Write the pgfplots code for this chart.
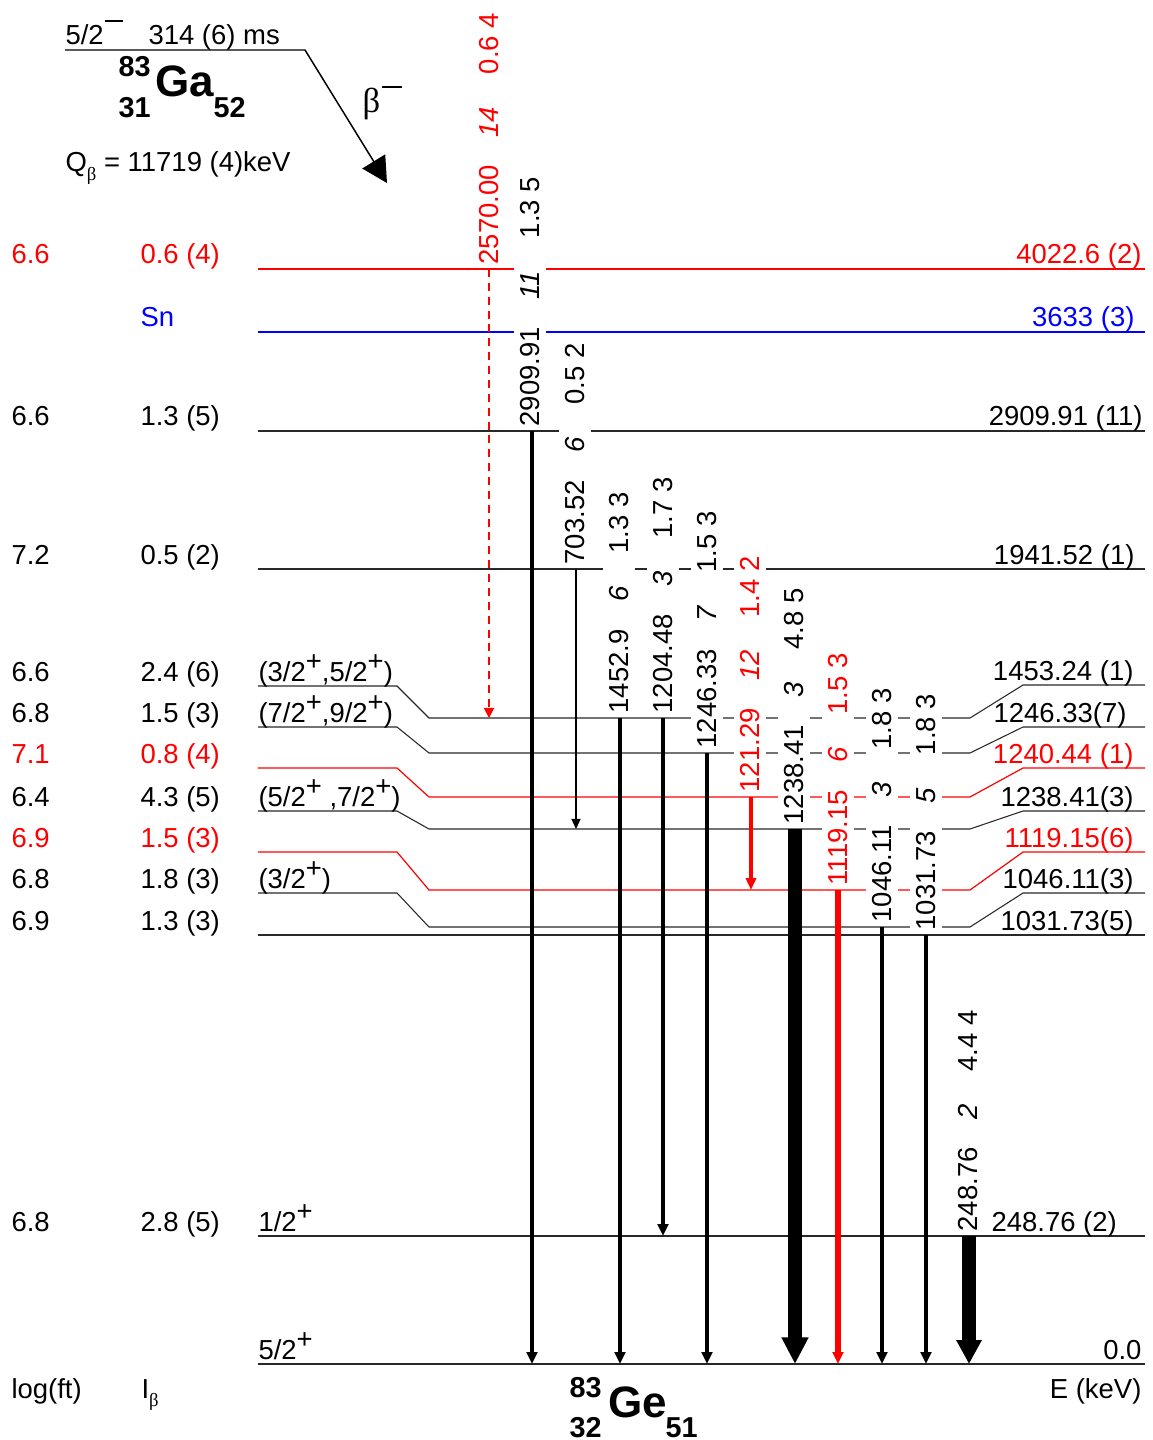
\documentclass[border=0pt]{standalone}
\usepackage{fontspec}
\setmainfont{Liberation Sans}
\newfontfamily\symfont{Liberation Serif}
\usepackage{pgfplots}
\pgfplotsset{compat=1.18}
\usetikzlibrary{arrows.meta}
\definecolor{lvred}{RGB}{255,0,0}
\definecolor{lvblue}{RGB}{0,0,255}
\definecolor{lvl}{RGB}{40,40,40}
\newcommand\sps{\raisebox{0.38em}{+}}
\newcommand\smn{\kern0.05em\raisebox{0.84em}{\rule{0.66em}{0.07em}}}
\newcommand\gl[3]{#1\hspace{1.0em}\textit{#2}\hspace{1.2em}#3}
\tikzset{lt/.style={anchor=base west, inner sep=0pt},
         rt/.style={anchor=base east, inner sep=0pt},
         gam/.style={rotate=90, anchor=west, fill=white, inner xsep=1pt, inner ysep=2.2pt},
         lev/.style={line width=0.4pt},
         levc/.style={line width=0.45pt}}
\begin{document}
\begin{tikzpicture}[font=\fontsize{10.3}{12}\selectfont]
\begin{axis}[width=432pt,height=540pt,scale only axis,
  xmin=0,xmax=1152,ymin=0,ymax=1440,y dir=reverse,hide axis,clip=false]

% ---------------- levels ----------------
\addplot[draw=lvred, levc] coordinates {(258,269)(1145,269)};
\addplot[draw=lvblue, levc] coordinates {(258,332)(1145,332)};
\addplot[draw=lvl, lev] coordinates {(258,431)(1145,431)};
\addplot[draw=lvl, lev] coordinates {(258,569)(1145,569)};
\addplot[draw=lvl, lev] coordinates {(258,686)(397,686)(429,718)(970,718)(1023,685)(1145,685)};
\addplot[draw=lvl, lev] coordinates {(258,727)(397,727)(429,753)(970,753)(1023,727)(1145,727)};
\addplot[draw=lvred, levc] coordinates {(258,768)(397,768)(429,797)(970,797)(1023,768)(1145,768)};
\addplot[draw=lvl, lev] coordinates {(258,811)(397,811)(429,829)(970,829)(1023,811)(1145,811)};
\addplot[draw=lvred, levc] coordinates {(258,852)(397,852)(429,890)(970,890)(1023,852)(1145,852)};
\addplot[draw=lvl, lev] coordinates {(258,893)(397,893)(429,927)(970,927)(1023,893)(1145,893)};
\addplot[draw=lvl, lev] coordinates {(258,935)(1145,935)};
\addplot[draw=lvl, lev] coordinates {(258,1236)(1145,1236)};
\addplot[draw=lvl, lev] coordinates {(258,1364)(1145,1364)};

% parent level and beta arrow
\addplot[black, line width=0.55pt, -{Triangle[length=9.5pt,width=10pt]}] coordinates {(65,50)(305,50)(387,183)};

% ---------------- gamma labels ----------------
\node[gam, text=lvred] at (axis cs:489,267.5) {\gl{2570.00}{14}{0.6 4}};
\node[gam] at (axis cs:530,429.5) {\gl{2909.91}{11}{1.3 5}};
\node[gam] at (axis cs:575,567.5) {\gl{703.52}{6}{0.5 2}};
\node[gam] at (axis cs:619,716.5) {\gl{1452.9}{6}{1.3 3}};
\node[gam] at (axis cs:663,716.5) {\gl{1204.48}{3}{1.7 3}};
\node[gam] at (axis cs:707,751.5) {\gl{1246.33}{7}{1.5 3}};
\node[gam, text=lvred] at (axis cs:750,795.5) {\gl{121.29}{12}{1.4 2}};
\node[gam] at (axis cs:794,827.5) {\gl{1238.41}{3}{4.8 5}};
\node[gam, text=lvred] at (axis cs:838,888.5) {\gl{1119.15}{6}{1.5 3}};
\node[gam] at (axis cs:882,925.5) {\gl{1046.11}{3}{1.8 3}};
\node[gam] at (axis cs:926,933.5) {\gl{1031.73}{5}{1.8 3}};
\node[gam] at (axis cs:968,1234.5) {\gl{248.76}{2}{4.4 4}};

% ---------------- gamma arrows ----------------
\addplot[lvred, line width=0.75pt, dash pattern=on 3pt off 2.2pt, -{Triangle[length=3.8pt,width=3.8pt]}] coordinates {(489,269)(489,718)};
\addplot[black, line width=1.3pt, -{Triangle[length=4.5pt,width=4pt]}] coordinates {(532,431)(532,1364)};
\addplot[black, line width=0.5pt, -{Triangle[length=3.8pt,width=3.4pt]}] coordinates {(576,569)(576,829)};
\addplot[black, line width=1.5pt, -{Triangle[length=4.5pt,width=4pt]}] coordinates {(620,718)(620,1364)};
\addplot[black, line width=1.8pt, -{Triangle[length=4.5pt,width=4pt]}] coordinates {(663,718)(663,1236)};
\addplot[black, line width=1.5pt, -{Triangle[length=4.5pt,width=4pt]}] coordinates {(707,753)(707,1364)};
\addplot[lvred, line width=1.25pt, -{Triangle[length=4.5pt,width=3.8pt]}] coordinates {(751,797)(751,890)};
\addplot[black, line width=5.5pt, -{Triangle[length=10pt,width=9.5pt]}] coordinates {(795,829)(795,1364)};
\addplot[lvred, line width=1.9pt, -{Triangle[length=4.5pt,width=4pt]}] coordinates {(838,890)(838,1364)};
\addplot[black, line width=1.6pt, -{Triangle[length=4.5pt,width=4pt]}] coordinates {(882,927)(882,1364)};
\addplot[black, line width=1.5pt, -{Triangle[length=4.5pt,width=4pt]}] coordinates {(926,935)(926,1364)};
\addplot[black, line width=5.3pt, -{Triangle[length=9pt,width=9pt]}] coordinates {(969,1236)(969,1364)};

% ---------------- left columns ----------------
\node[lt, text=lvred] at (axis cs:11,264) {6.6};
\node[lt, text=lvred] at (axis cs:140,264) {0.6 (4)};
\node[lt, text=lvblue] at (axis cs:140,327) {Sn};
\node[lt] at (axis cs:11,426) {6.6};
\node[lt] at (axis cs:140,426) {1.3 (5)};
\node[lt] at (axis cs:11,564) {7.2};
\node[lt] at (axis cs:140,564) {0.5 (2)};
\node[lt] at (axis cs:11,681) {6.6};
\node[lt] at (axis cs:140,681) {2.4 (6)};
\node[lt] at (axis cs:11,722) {6.8};
\node[lt] at (axis cs:140,722) {1.5 (3)};
\node[lt, text=lvred] at (axis cs:11,763) {7.1};
\node[lt, text=lvred] at (axis cs:140,763) {0.8 (4)};
\node[lt] at (axis cs:11,806) {6.4};
\node[lt] at (axis cs:140,806) {4.3 (5)};
\node[lt, text=lvred] at (axis cs:11,847) {6.9};
\node[lt, text=lvred] at (axis cs:140,847) {1.5 (3)};
\node[lt] at (axis cs:11,888) {6.8};
\node[lt] at (axis cs:140,888) {1.8 (3)};
\node[lt] at (axis cs:11,930) {6.9};
\node[lt] at (axis cs:140,930) {1.3 (3)};
\node[lt] at (axis cs:11,1231) {6.8};
\node[lt] at (axis cs:140,1231) {2.8 (5)};

% spins
\node[lt] at (axis cs:258,681) {(3/2\sps,5/2\sps)};
\node[lt] at (axis cs:258,722) {(7/2\sps,9/2\sps)};
\node[lt] at (axis cs:258,806) {(5/2\sps\ ,7/2\sps)};
\node[lt] at (axis cs:258,888) {(3/2\sps)};
\node[lt] at (axis cs:258,1231) {1/2\sps};
\node[lt] at (axis cs:258,1359) {5/2\sps};

% ---------------- right labels ----------------
\node[rt, text=lvred] at (axis cs:1142,264) {4022.6 (2)};
\node[rt, text=lvblue] at (axis cs:1135,327) {3633 (3)};
\node[rt] at (axis cs:1143,426) {2909.91 (11)};
\node[rt] at (axis cs:1135,564) {1941.52 (1)};
\node[rt] at (axis cs:1134,680) {1453.24 (1)};
\node[rt] at (axis cs:1127,722) {1246.33(7)};
\node[rt, text=lvred] at (axis cs:1134,763) {1240.44 (1)};
\node[rt] at (axis cs:1134,806) {1238.41(3)};
\node[rt, text=lvred] at (axis cs:1134,847) {1119.15(6)};
\node[rt] at (axis cs:1134,888) {1046.11(3)};
\node[rt] at (axis cs:1134,930) {1031.73(5)};
\node[lt] at (axis cs:991,1231) {248.76 (2)};
\node[rt] at (axis cs:1142,1359) {0.0};

% ---------------- parent ----------------
\node[lt] at (axis cs:65,45) {5/2\smn};
\node[lt] at (axis cs:148,45) {314 (6) ms};
\node[lt, font=\fontsize{16.5}{18}\selectfont\bfseries] at (axis cs:155,97) {Ga};
\node[lt, font=\fontsize{10.8}{12}\selectfont\bfseries] at (axis cs:118,77) {83};
\node[lt, font=\fontsize{10.8}{12}\selectfont\bfseries] at (axis cs:118,118) {31};
\node[lt, font=\fontsize{10.8}{12}\selectfont\bfseries] at (axis cs:213,118) {52};
\node[lt] at (axis cs:65,172) {Q\raisebox{-0.3em}{\fontsize{7}{8}\selectfont\symfont β} = 11719 (4)keV};
\node[lt, font=\fontsize{13}{15}\selectfont\symfont] at (axis cs:362,113) {β\kern0.05em\raisebox{0.72em}{\rule{0.58em}{0.05em}}};

% ---------------- bottom ----------------
\node[lt] at (axis cs:11,1398) {log(ft)};
\node[lt] at (axis cs:141,1398) {I\raisebox{-0.3em}{\fontsize{7}{8}\selectfont\symfont β}};
\node[rt] at (axis cs:1142,1398) {E (keV)};
\node[lt, font=\fontsize{16.5}{18}\selectfont\bfseries] at (axis cs:608,1417) {Ge};
\node[lt, font=\fontsize{10.8}{12}\selectfont\bfseries] at (axis cs:569,1397) {83};
\node[lt, font=\fontsize{10.8}{12}\selectfont\bfseries] at (axis cs:569,1437) {32};
\node[lt, font=\fontsize{10.8}{12}\selectfont\bfseries] at (axis cs:665,1437) {51};
\end{axis}
\path (current axis.south west) rectangle (current axis.north east);
\end{tikzpicture}
\end{document}
